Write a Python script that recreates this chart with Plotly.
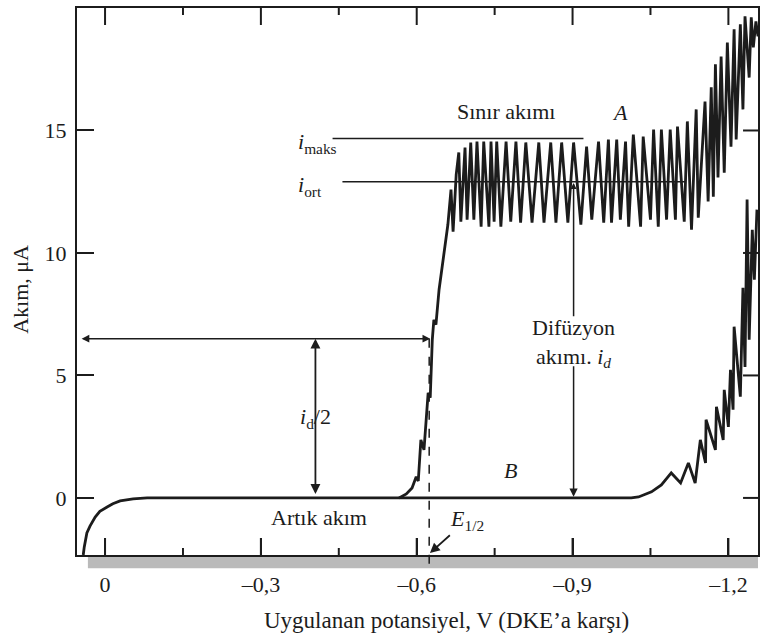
import plotly.graph_objects as go

# ---------------- data ----------------
# Curve B : residual current (supporting electrolyte only)
b_potential = [0.042, 0.040, 0.035, 0.029, 0.019, 0.010, -0.004, -0.015, -0.029, -0.054, -0.081,
               -1.013, -1.027, -1.052, -1.071, -1.090, -1.108, -1.123, -1.136, -1.146, -1.156,
               -1.157, -1.175, -1.177, -1.190, -1.192, -1.200, -1.204, -1.209, -1.211, -1.223,
               -1.228, -1.232, -1.236, -1.240, -1.246, -1.250, -1.255]
b_current = [-2.33, -2.00, -1.43, -1.15, -0.78, -0.55, -0.37, -0.24, -0.12, -0.04, 0.0,
             0.0, 0.04, 0.25, 0.53, 1.02, 0.61, 1.43, 0.61, 2.37, 1.43,
             3.19, 1.96, 3.72, 2.37, 4.41, 2.90, 5.23, 3.60, 6.99, 4.13,
             8.58, 5.35, 12.18, 6.46, 10.95, 8.91, 11.77]

# Curve A : rising part of the wave
a_rise_potential = [-0.566, -0.580, -0.591, -0.599, -0.603, -0.608, -0.614, -0.618, -0.622, -0.626,
                    -0.630, -0.633, -0.637, -0.643, -0.649, -0.655, -0.660, -0.666, -0.670, -0.676]
a_rise_current = [0.0, 0.16, 0.41, 0.86, 0.69, 2.37, 1.96, 3.07, 4.29, 4.09,
                  6.46, 7.27, 7.07, 8.50, 9.44, 10.34, 11.16, 12.59, 10.87, 13.20]

# Curve A : drop oscillations (maxima and minima)
a_peak_potential = [-0.681, -0.693, -0.704, -0.716, -0.729, -0.743, -0.754, -0.772, -0.791, -0.810,
                    -0.835, -0.858, -0.879, -0.902, -0.927, -0.950, -0.969, -0.985, -1.002, -1.017,
                    -1.036, -1.056, -1.071, -1.088, -1.102, -1.121, -1.138, -1.155, -1.167, -1.175,
                    -1.186, -1.198, -1.211, -1.223, -1.232, -1.244, -1.253]
a_peak_current = [14.10, 14.30, 14.51, 14.55, 14.55, 14.55, 14.55, 14.55, 14.55, 14.51,
                  14.51, 14.51, 14.51, 14.51, 14.34, 14.55, 14.63, 14.63, 14.55, 14.83,
                  14.75, 15.04, 15.04, 15.04, 15.16, 15.37, 15.86, 16.18, 16.76, 17.70,
                  18.02, 18.59, 19.13, 19.33, 19.66, 19.62, 19.45]
a_trough_potential = [-0.685, -0.697, -0.710, -0.724, -0.739, -0.749, -0.762, -0.781, -0.800, -0.822,
                      -0.845, -0.868, -0.891, -0.916, -0.937, -0.960, -0.975, -0.992, -1.008, -1.031,
                      -1.050, -1.065, -1.081, -1.098, -1.115, -1.129, -1.142, -1.161, -1.171, -1.180,
                      -1.192, -1.205, -1.215, -1.228, -1.240, -1.248, -1.257]
a_trough_current = [11.28, 11.36, 11.36, 11.07, 11.07, 11.28, 11.07, 11.28, 11.24, 11.24,
                    11.24, 11.24, 11.24, 11.16, 11.36, 11.24, 11.24, 11.36, 11.07, 11.07,
                    11.36, 11.07, 11.36, 11.36, 11.28, 10.95, 11.44, 12.10, 12.30, 13.08,
                    13.28, 14.34, 14.63, 15.86, 17.16, 18.39, 18.84]

x_tickvals = [0, -0.3, -0.6, -0.9, -1.2]
x_ticktext = ["0", "\u20130,3", "\u20130,6", "\u20130,9", "\u20131,2"]
x_minor_tickvals = [-0.15, -0.45, -0.75, -1.05]
y_tickvals = [0, 5, 10, 15, 20]

x_range = [0.054, -1.257]
y_range = [-2.33, 20.0]

i_maks = 14.67
i_ort = 12.91
i_maks_span = [-0.438, -0.921]
i_ort_span = [-0.457, -1.117]
e_half = -0.624
half_level = 6.5
half_left = 0.048
id_half_pos = -0.405
id_pos = -0.902

# ---------------- build ----------------
a_x = list(a_rise_potential)
a_y = list(a_rise_current)
for pp, pc, tp, tc in zip(a_peak_potential, a_peak_current, a_trough_potential, a_trough_current):
    a_x += [pp, tp]
    a_y += [pc, tc]

INK = "#1c1c1c"
FONT = "Liberation Serif, Times New Roman, serif"
W, H = 762, 635
ML, MR, MT, MB = 77, 2, 8, 80
PW, PH = W - ML - MR, H - MT - MB

fig = go.Figure()
fig.add_trace(go.Scatter(x=b_potential, y=b_current, mode="lines",
                         line=dict(color=INK, width=2.8), showlegend=False, hoverinfo="skip"))
fig.add_trace(go.Scatter(x=a_x, y=a_y, mode="lines",
                         line=dict(color=INK, width=2.8), showlegend=False, hoverinfo="skip"))

# frame tick marks (bottom & top of the x axis, right side of the y axis) at the tick values
yspan = y_range[1] - y_range[0]
xspan = abs(x_range[1] - x_range[0])
tx, ty = [], []
for vals, length in [(x_tickvals, 17), (x_minor_tickvals, 7)]:
    d = length / PH * yspan
    for v in vals:
        tx += [v, v, None, v, v, None]
        ty += [y_range[0], y_range[0] + d, None, y_range[1], y_range[1] - d, None]
for v in y_tickvals[:-1]:
    d = 15 / PW * xspan
    tx += [x_range[1], x_range[1] + d, None]
    ty += [v, v, None]
fig.add_trace(go.Scatter(x=tx, y=ty, mode="lines", line=dict(color=INK, width=2),
                         showlegend=False, hoverinfo="skip"))


def ypaper(v):
    return (v - y_range[0]) / (y_range[1] - y_range[0])


shapes = [
    dict(type="line", xref="x", yref="y", x0=i_maks_span[0], x1=i_maks_span[1], y0=i_maks, y1=i_maks,
         line=dict(color=INK, width=1.5), layer="below"),
    dict(type="line", xref="x", yref="y", x0=i_ort_span[0], x1=i_ort_span[1], y0=i_ort, y1=i_ort,
         line=dict(color=INK, width=1.5), layer="below"),
    dict(type="line", xref="x", yref="paper", x0=e_half, x1=e_half, y0=ypaper(half_level), y1=-0.02,
         line=dict(color=INK, width=1.5, dash="dash")),
    dict(type="rect", xref="paper", yref="paper", x0=0.016, x1=1.0, y0=-0.003, y1=-0.024,
         fillcolor="#bababa", line=dict(width=0), layer="below"),
]

tf = dict(family=FONT, size=22, color=INK)
annotations = [
    dict(x=-0.7716, y=15.77, text="S\u0131n\u0131r ak\u0131m\u0131", showarrow=False, font=tf),
    dict(x=-0.992, y=15.73, text="<i>A</i>", showarrow=False, font=tf),
    dict(x=-0.781, y=1.14, text="<i>B</i>", showarrow=False, font=tf),
    dict(x=-0.3685, y=14.5, text="<i>i</i><sub>maks</sub>", showarrow=False, xanchor="left", font=tf),
    dict(x=-0.3685, y=12.75, text="<i>i</i><sub>ort</sub>", showarrow=False, xanchor="left", font=tf),
    dict(x=id_pos, y=6.33, text="Dif\u00fczyon<br>ak\u0131m\u0131. <i>i<sub>d</sub></i>", showarrow=False, font=tf),
    dict(x=-0.411, y=-0.78, text="Art\u0131k ak\u0131m", showarrow=False, font=tf),
    dict(x=id_half_pos, y=3.27, text="<i>i</i><sub>d</sub>/2", showarrow=False, font=tf, bgcolor="white"),
    # E1/2 label with arrow
    dict(x=e_half, y=-2.28, ax=38, ay=-34, text="<i>E</i><sub>1/2</sub>", showarrow=True,
         arrowhead=2, arrowsize=1.1, arrowwidth=1.8, arrowcolor=INK, font=tf, standoff=1),
    # horizontal double arrow at id/2
    dict(x=e_half - 0.002, y=half_level, ax=half_left, ay=half_level, axref="x", ayref="y",
         text="", showarrow=True, arrowside="end+start", arrowhead=2, arrowsize=1.1,
         arrowwidth=1.4, arrowcolor=INK),
    # vertical double arrow id/2
    dict(x=id_half_pos, y=half_level, ax=id_half_pos, ay=0.1, axref="x", ayref="y",
         text="", showarrow=True, arrowside="end+start", arrowhead=2, arrowsize=1.1,
         arrowwidth=1.8, arrowcolor=INK),
    # diffusion current arrows
    dict(x=id_pos, y=i_ort - 0.05, ax=id_pos, ay=7.36, axref="x", ayref="y",
         text="", showarrow=True, arrowhead=2, arrowsize=0.8, arrowwidth=1.5, arrowcolor=INK),
    dict(x=id_pos, y=0.05, ax=id_pos, ay=5.44, axref="x", ayref="y",
         text="", showarrow=True, arrowhead=2, arrowsize=1.1, arrowwidth=1.5, arrowcolor=INK),
    # axis titles
    dict(xref="paper", yref="paper", x=0.542, y=-0.119, xanchor="center", yanchor="middle",
         text="Uygulanan potansiyel, V (DKE\u2019a kar\u015f\u0131)",
         showarrow=False, font=dict(family=FONT, size=23, color=INK)),
    dict(xref="paper", yref="paper", x=-0.082, y=0.485, xanchor="center", yanchor="middle",
         text="Ak\u0131m, \u03bcA", textangle=-90,
         showarrow=False, font=dict(family=FONT, size=22, color=INK)),
]

tick_common = dict(ticks="inside", tickwidth=1.8, tickcolor=INK, showgrid=False, zeroline=False)

fig.update_layout(
    width=W, height=H,
    margin=dict(l=ML, r=MR, t=MT, b=MB),
    paper_bgcolor="white", plot_bgcolor="white",
    shapes=shapes, annotations=annotations,
    font=dict(family=FONT, size=22, color=INK),
    xaxis=dict(range=x_range, tickmode="array", tickvals=x_tickvals, ticktext=x_ticktext,
               ticklen=17, showline=True, linewidth=2, linecolor=INK, mirror=True,
               ticklabelstandoff=9, tickfont=dict(family=FONT, size=22, color=INK),
               **tick_common),
    yaxis=dict(range=y_range, tickmode="array", tickvals=y_tickvals, ticklen=17,
               showline=True, linewidth=2, linecolor=INK, mirror=True,
               ticklabelstandoff=4, tickfont=dict(family=FONT, size=22, color=INK),
               **tick_common),
)

fig.write_html("out.html")
